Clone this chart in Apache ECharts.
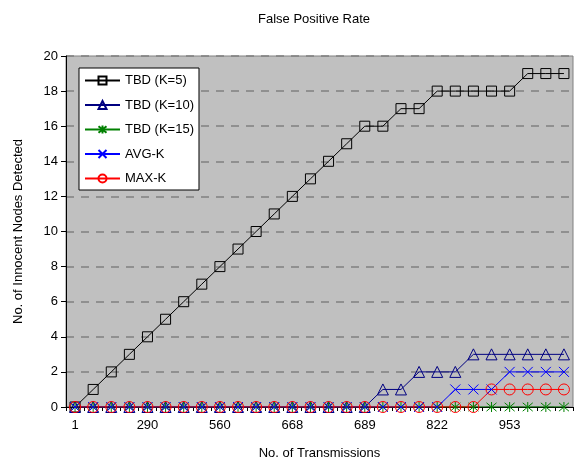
<!DOCTYPE html>
<html>
<head>
<meta charset="utf-8">
<script src="https://cdn.jsdelivr.net/npm/echarts@6/dist/echarts.min.js"></script>
<style>html,body{margin:0;padding:0;background:#fff}#c{width:575px;height:465px}</style>
</head>
<body>
<div id="c"></div>
<script>
// 28 transmission checkpoints; only every 4th is labelled on the axis
const pointIds = ['p1','p2','p3','p4','p5','p6','p7','p8','p9','p10','p11','p12','p13','p14','p15','p16','p17','p18','p19','p20','p21','p22','p23','p24','p25','p26','p27','p28'];
const tickLabels = ['1','290','560','668','689','822','953'];

const tbdK5  = [0,1,2,3,4,5,6,7,8,9,10,11,12,13,14,15,16,16,17,17,18,18,18,18,18,19,19,19];
const tbdK10 = [0,0,0,0,0,0,0,0,0,0,0,0,0,0,0,0,0,1,1,2,2,2,3,3,3,3,3,3];
const tbdK15 = [0,0,0,0,0,0,0,0,0,0,0,0,0,0,0,0,0,0,0,0,0,0,0,0,0,0,0,0];
const avgK   = [0,0,0,0,0,0,0,0,0,0,0,0,0,0,0,0,0,0,0,0,0,1,1,1,2,2,2,2];
const maxK   = [0,0,0,0,0,0,0,0,0,0,0,0,0,0,0,0,0,0,0,0,0,0,0,1,1,1,1,1];

const seriesNames = ['TBD (K=5)','TBD (K=10)','TBD (K=15)','AVG-K','MAX-K'];

const FONT = 'Liberation Sans, Arial, sans-serif';
const CLEAR = 'rgba(0,0,0,0)';

function mk(name, data, color, symbol, size) {
  return {
    name: name, type: 'line', data: data,
    symbol: symbol, symbolSize: size,
    showAllSymbol: true,
    lineStyle: { color: color, width: 1 },
    itemStyle: { color: CLEAR, borderColor: color, borderWidth: 1 },
    emphasis: { disabled: true },
    animation: false
  };
}

const chart = echarts.init(document.getElementById('c'), null, { renderer: 'canvas' });
chart.setOption({
  animation: false,
  backgroundColor: '#ffffff',
  title: {
    text: 'False Positive Rate',
    left: 253, top: 8,
    textStyle: { fontFamily: FONT, fontSize: 13, fontWeight: 'normal', color: '#000' }
  },
  legend: {
    orient: 'vertical',
    left: 79, top: 68,
    data: seriesNames,
    backgroundColor: '#ffffff',
    borderColor: '#000000', borderWidth: 1,
    padding: [6, 5, 5, 5],
    itemWidth: 35, itemHeight: 10, itemGap: 11.5,
    textStyle: { fontFamily: FONT, fontSize: 13, color: '#000' }
  },
  grid: {
    left: 66, right: 2, top: 56, bottom: 57,
    show: true, backgroundColor: '#C0C0C0', borderColor: '#808080', borderWidth: 1
  },
  xAxis: {
    type: 'category',
    data: pointIds,
    boundaryGap: true,
    name: 'No. of Transmissions',
    nameLocation: 'middle', nameGap: 40,
    nameTextStyle: { fontFamily: FONT, fontSize: 13, color: '#000' },
    axisLine: { show: true, onZero: false, lineStyle: { color: '#000', width: 1 } },
    axisTick: { show: true, interval: 0, length: 4, lineStyle: { color: '#000' } },
    axisLabel: {
      interval: 0, margin: 12,
      fontFamily: FONT, fontSize: 13, color: '#000',
      formatter: function (v, i) { return i % 4 === 0 ? (tickLabels[i / 4] || '') : ''; }
    },
    splitLine: { show: false }
  },
  yAxis: {
    type: 'value', min: 0, max: 20, interval: 2,
    name: 'No. of Innocent Nodes Detected',
    nameLocation: 'middle', nameGap: 41,
    nameTextStyle: { fontFamily: FONT, fontSize: 13, color: '#000' },
    axisLine: { show: true, lineStyle: { color: '#000', width: 1 } },
    axisTick: { show: true, length: 5, lineStyle: { color: '#000' } },
    axisLabel: { margin: 8, fontFamily: FONT, fontSize: 13, color: '#000' },
    splitLine: { show: true, lineStyle: { color: '#808080', width: 1.5, type: [8, 7] } }
  },
  series: [
    mk(seriesNames[0], tbdK5,  '#000000', 'rect', 10),
    mk(seriesNames[1], tbdK10, '#000080', 'triangle', 11),
    mk(seriesNames[2], tbdK15, '#008000', 'path://M0,0L10,10M10,0L0,10M5,-1L5,11', 10),
    mk(seriesNames[3], avgK,   '#0000FF', 'path://M0,0L10,10M10,0L0,10', 10),
    mk(seriesNames[4], maxK,   '#FF0000', 'circle', 11)
  ]
});
</script>
</body>
</html>
